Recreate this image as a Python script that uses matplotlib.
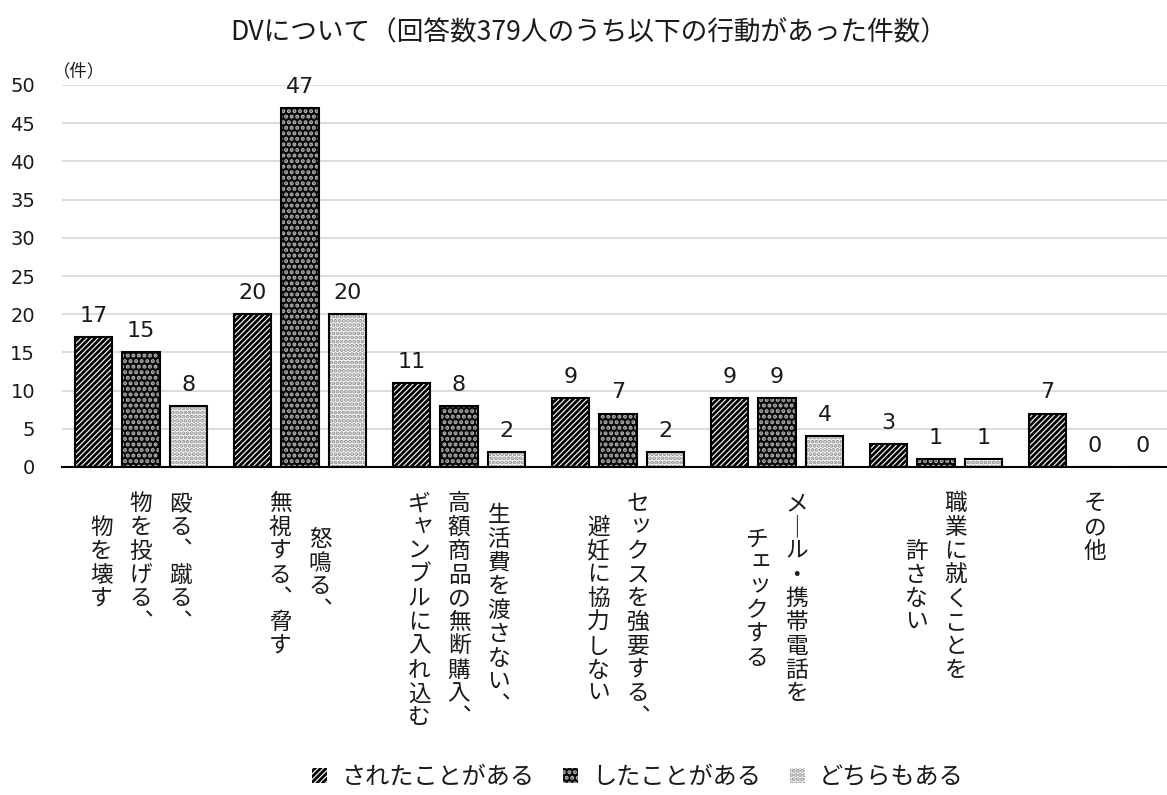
import matplotlib
matplotlib.use("Agg")
import matplotlib.pyplot as plt
from matplotlib.patches import Patch
import numpy as np

# ---- data ----
label_lines = [
    ["殴る、蹴る、", "物を投げる、", "物を壊す"],
    ["怒鳴る、", "無視する、脅す"],
    ["生活費を渡さない、", "高額商品の無断購入、", "ギャンブルに入れ込む"],
    ["セックスを強要する、", "避妊に協力しない"],
    ["メール・携帯電話を", "チェックする"],
    ["職業に就くことを", "許さない"],
    ["その他"],
]
series_names = ["されたことがある", "したことがある", "どちらもある"]
done_to = [17, 20, 11, 9, 9, 3, 7]
did = [15, 47, 8, 7, 9, 1, 0]
both = [8, 20, 2, 2, 4, 1, 0]
yticks = [0, 5, 10, 15, 20, 25, 30, 35, 40, 45, 50]
title = "DVについて（回答数379人のうち以下の行動があった件数）"
unit = "（件）"

JP = "Noto Sans CJK JP"
NUM = ["DejaVu Sans", JP]
plt.rcParams["hatch.linewidth"] = 2.0

W, H = 1167, 795
fig = plt.figure(figsize=(W / 100, H / 100), dpi=100)
ax = fig.add_axes([61.5 / W, (H - 467) / H, (1174.5 - 61.5) / W, 382 / H])

n = len(label_lines)
x = np.arange(n)
off = 0.299
bw = 0.233

styles = [
    dict(color="white", edgecolor="black", hatch="//////"),
    dict(color="#0a0a0a", edgecolor="#b5b5b5", hatch="..."),
    dict(color="white", edgecolor="#8a8a8a", hatch="...."),
]
all_series = [done_to, did, both]
for k, (vals, st) in enumerate(zip(all_series, styles)):
    xs = x + (k - 1) * off
    ax.bar(xs, vals, bw, linewidth=0, zorder=2, **st)
    ax.bar(xs, vals, bw, fill=False, edgecolor="black", linewidth=1.5, zorder=3)
    for xi, v in zip(xs, vals):
        ax.annotate(str(v), (xi, v), xytext=(0, 8), textcoords="offset points",
                    ha="center", va="bottom", fontsize=16, family=NUM, color="#1a1a1a")

ax.set_xlim(-0.5, n - 0.5)
ax.set_ylim(0, 50)
ax.set_yticks(yticks)
ax.set_yticklabels([str(t) for t in yticks], fontsize=14, family=NUM, color="#1a1a1a")
ax.tick_params(axis="y", length=0, pad=19)
ax.set_xticks([])
ax.grid(axis="y", color="#d9d9d9", linewidth=1.3, zorder=0)
ax.set_axisbelow(True)
for s in ["top", "right", "left"]:
    ax.spines[s].set_visible(False)
ax.spines["bottom"].set_color("black")
ax.spines["bottom"].set_linewidth(1.5)
ax.spines["bottom"].set_zorder(4)

# vertical (tategaki) category labels
subst = {"、": "︑", "ー": "｜"}
small = set("ッャュョェァィゥォっゃゅょ")
pitch = 17.1   # pt between characters
colgap = 28.6  # pt between columns
top0 = -26.5   # pt: centre of first char relative to axis
for i, lines in enumerate(label_lines):
    nmax = max(len(l) for l in lines)
    ncol = len(lines)
    for c, line in enumerate(lines):
        dx = ((ncol - 1) / 2 - c) * colgap
        start = top0 - (nmax - len(line)) / 2 * pitch
        for j, ch in enumerate(line):
            ch2 = subst.get(ch, ch)
            ddx, ddy = (2.5, 2.5) if ch in small else (0, 0)
            ax.annotate(ch2, (i, 0), xycoords=("data", "axes fraction"),
                        xytext=(dx + ddx, start - j * pitch + ddy), textcoords="offset points",
                        ha="center", va="center", fontsize=16.3, family=JP, color="#1a1a1a",
                        annotation_clip=False)

fig.text(589 / W, 1 - 33 / H, title, ha="center", va="center", fontsize=19.2,
         family=[JP], color="#1a1a1a")
fig.text(79 / W, 1 - 71 / H, unit, ha="center", va="center", fontsize=12.5,
         family=[JP], color="#1a1a1a")

handles = [Patch(facecolor=st["color"], edgecolor=st["edgecolor"], hatch=st["hatch"],
                 linewidth=0) for st in styles]
leg = fig.legend(handles, series_names, loc="center", bbox_to_anchor=(638 / W, 18 / H),
                 ncol=3, frameon=False, prop={"family": JP, "size": 17.4},
                 handlelength=0.6, handleheight=0.6, handletextpad=0.6, columnspacing=1.2)
for t in leg.get_texts():
    t.set_color("#1a1a1a")

fig.savefig("out.png", dpi=100)
